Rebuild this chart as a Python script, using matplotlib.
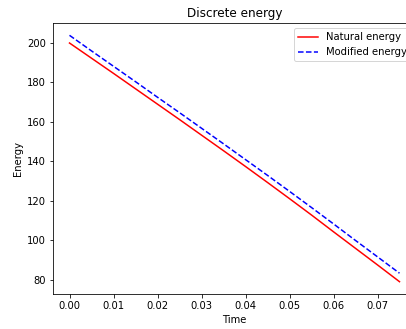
import matplotlib
matplotlib.use("Agg")
import matplotlib.pyplot as plt

time = [0.0, 0.005, 0.01, 0.015, 0.02, 0.025, 0.03, 0.035, 0.04, 0.045,
        0.05, 0.055, 0.06, 0.065, 0.07, 0.075]
natural_energy = [200.0, 192.3, 184.6, 176.8, 169.0, 161.2, 153.3, 145.4,
                  137.4, 129.3, 121.1, 112.8, 104.3, 95.9, 87.5, 79.0]
modified_energy = [203.9, 196.0, 188.2, 180.4, 172.5, 164.7, 156.8, 148.9,
                   140.9, 132.9, 124.8, 116.6, 108.3, 99.9, 91.6, 83.3]

fig = plt.figure(figsize=(406 / 72, 329 / 72), dpi=72)
ax = fig.add_axes([53 / 406, 35 / 329, 363 / 406, 271 / 329])
ax.plot(time, natural_energy, 'r-', label='Natural energy')
ax.plot(time, modified_energy, 'b--', label='Modified energy')
ax.set_title('Discrete energy')
ax.set_xlabel('Time')
ax.set_ylabel('Energy')
ax.set_yticks([80, 100, 120, 140, 160, 180, 200])
ax.set_xticks([0.0, 0.01, 0.02, 0.03, 0.04, 0.05, 0.06, 0.07])
ax.set_xticklabels(['0.00', '0.01', '0.02', '0.03', '0.04', '0.05', '0.06', '0.07'])
ax.legend(loc='upper right')
fig.savefig('out.png', dpi=72)
